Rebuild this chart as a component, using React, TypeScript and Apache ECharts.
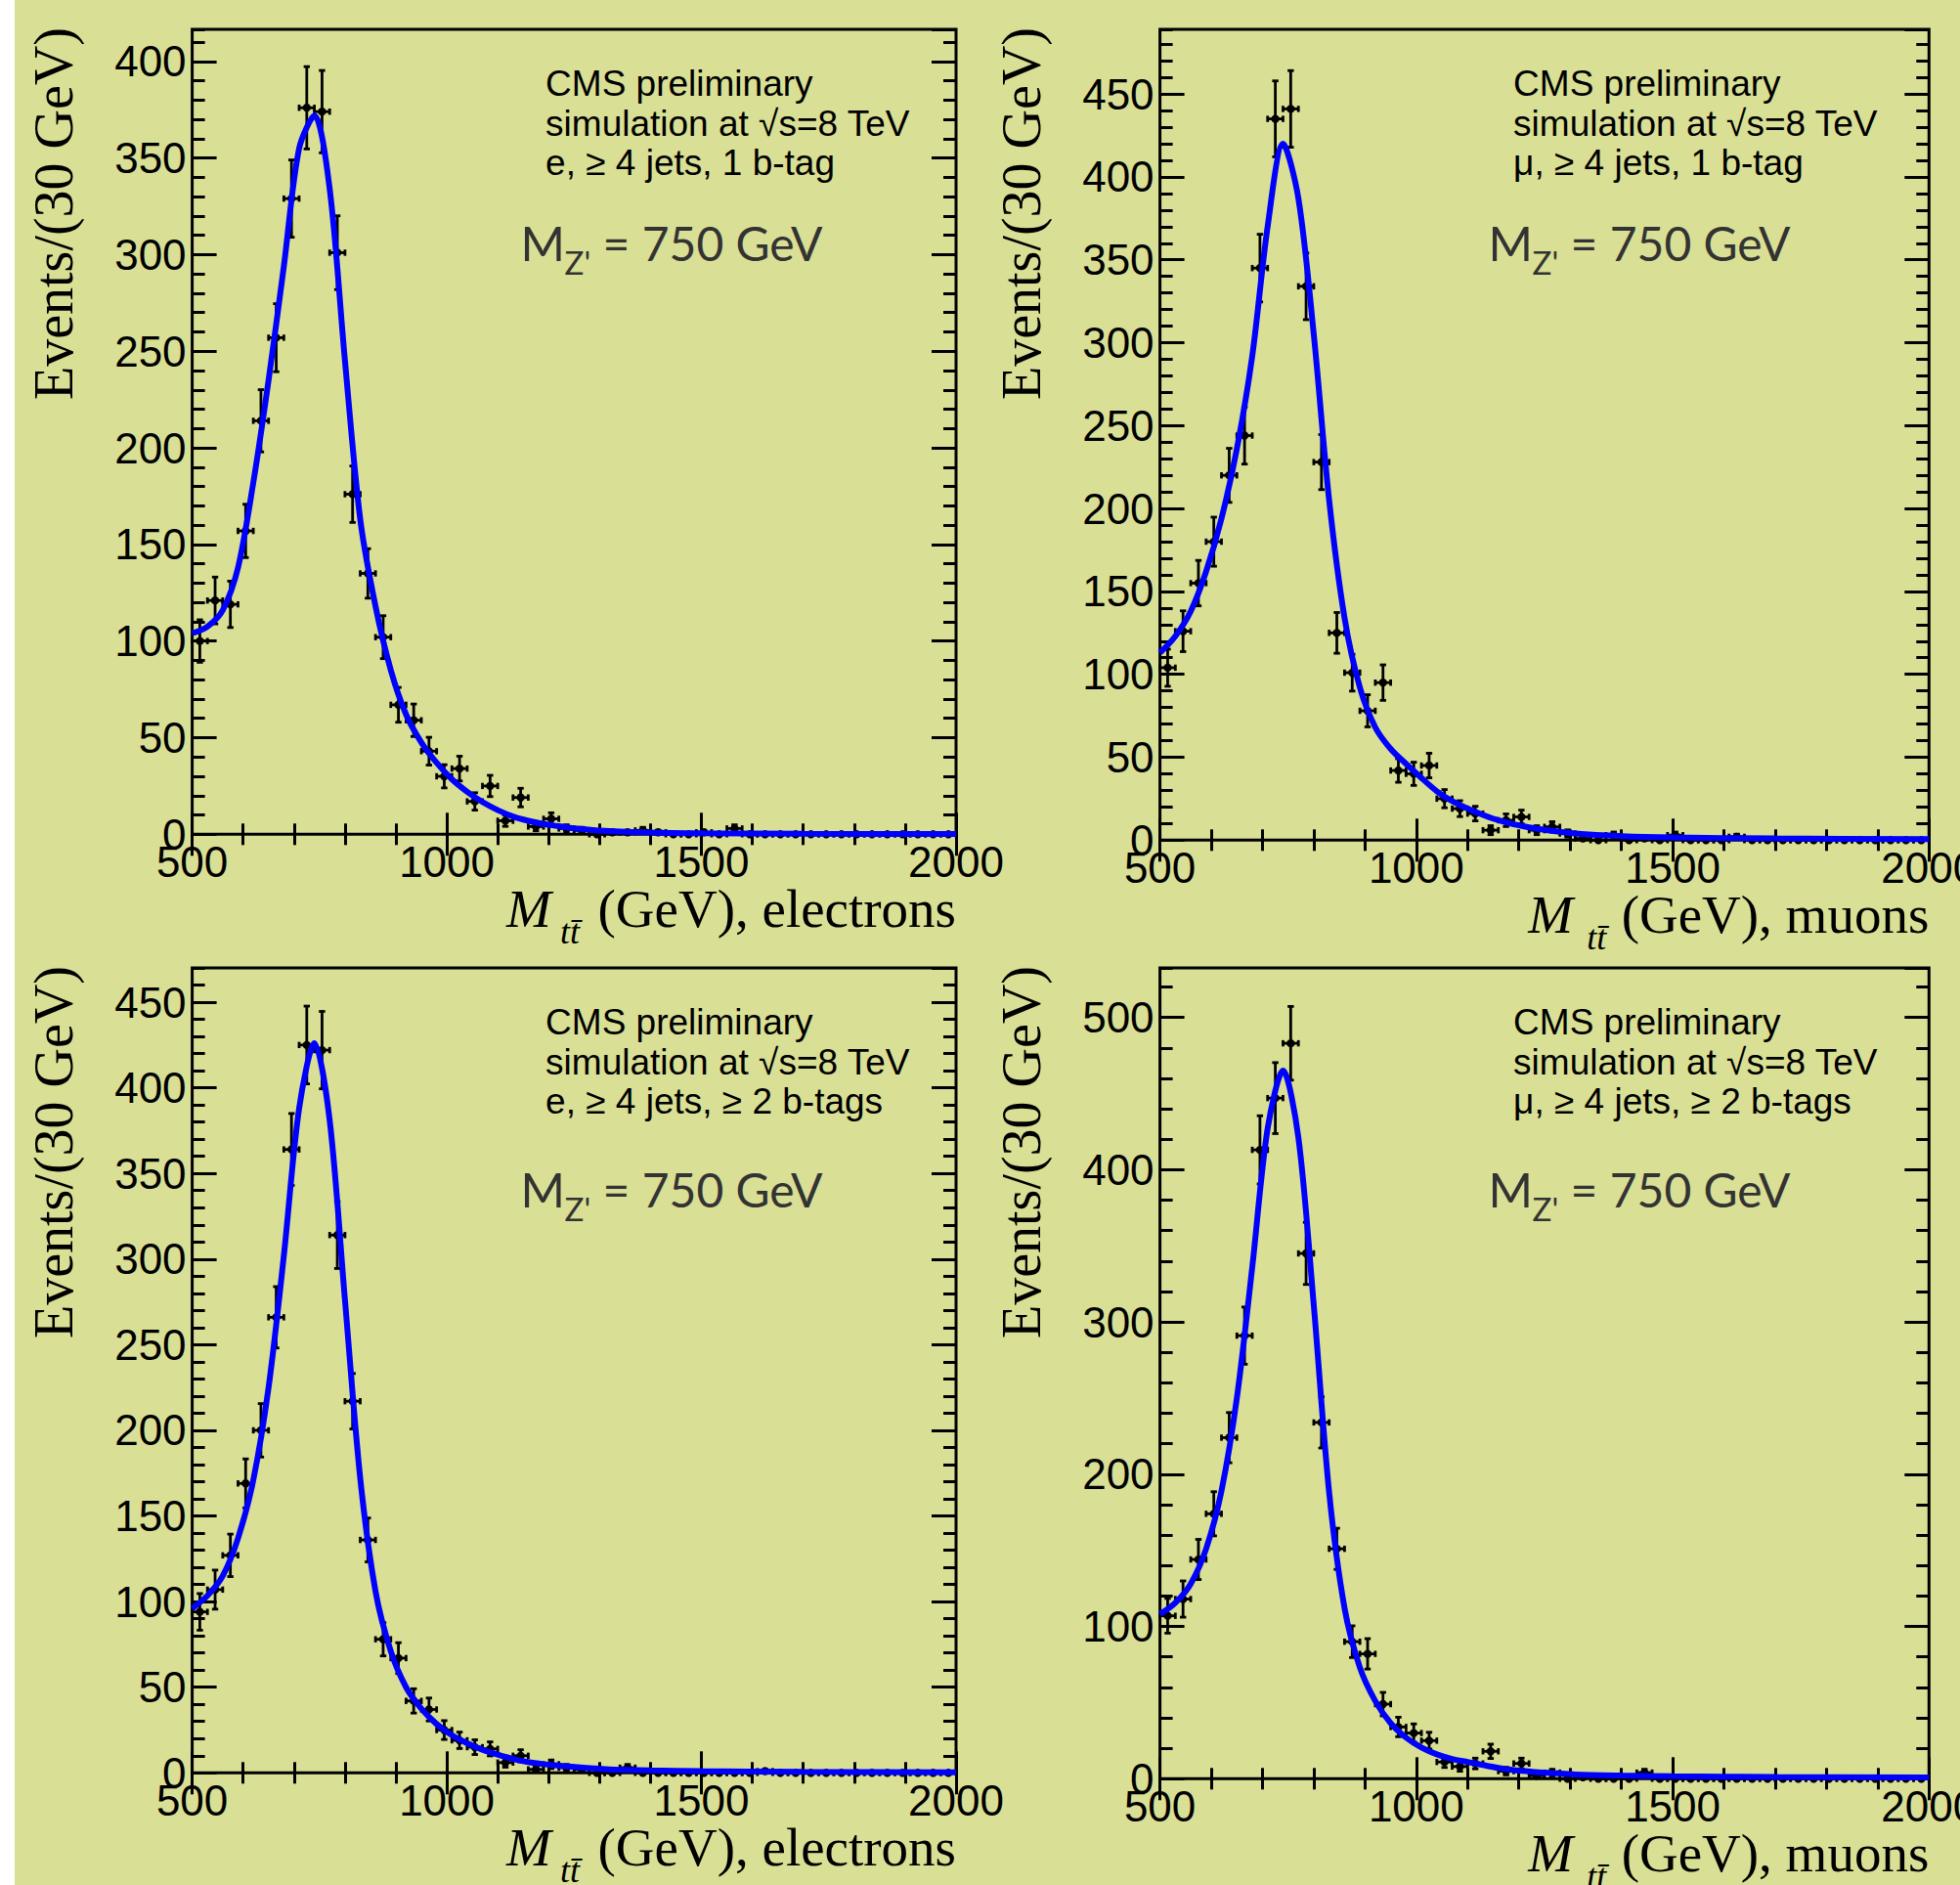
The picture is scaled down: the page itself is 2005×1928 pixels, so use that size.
import React, { useEffect, useRef } from "react";
import * as echarts from "echarts";

// ---------------- data ----------------
const BIN_CENTERS = [
  515, 545, 575, 605, 635, 665, 695, 725, 755, 785, 815, 845, 875, 905, 935, 965, 995, 1025, 1055, 1085,
  1115, 1145, 1175, 1205, 1235, 1265, 1295, 1325, 1355, 1385, 1415, 1445, 1475, 1505, 1535, 1565, 1595,
  1625, 1655, 1685, 1715, 1745, 1775, 1805, 1835, 1865, 1895, 1925, 1955, 1985,
];
const BIN_HALF_WIDTH = 15;

// electrons, 1 b-tag
const E1B_COUNTS = [
  100, 121, 119, 157, 214, 257, 329, 376, 374, 301, 176, 135, 102, 67, 59, 43, 30, 34, 17, 25,
  7, 19, 4, 8, 3, 2, 0, 1, 1, 2, 1, 0, 0, 1, 0, 3, 0, 0, 0, 0, 0, 0, 0, 0, 0, 0, 0, 0, 0, 0,
];
const E1B_ERRORS = [
  11.0, 12.1, 12.0, 13.8, 16.1, 17.6, 20.0, 21.3, 21.3, 19.1, 14.6, 12.8, 11.1, 9.0, 8.4, 7.2, 6.0, 6.4, 4.5, 5.5,
  2.9, 4.8, 2.2, 3.1, 1.9, 1.6, 0, 1.1, 1.1, 1.6, 1.1, 0, 0, 1.1, 0, 1.9, 0, 0, 0, 0, 0, 0, 0, 0, 0, 0, 0, 0, 0, 0,
];
// muons, 1 b-tag
const M1B_COUNTS = [
  104, 126, 155, 180, 220, 244, 345, 435, 441, 334, 228, 125, 101, 78, 95, 42, 40, 45, 25, 19,
  16, 6, 12, 14, 6, 8, 4, 1, 0, 3, 0, 1, 0, 3, 0, 0, 0, 2, 0, 0, 0, 0, 0, 0, 0, 0, 0, 0, 0, 0,
];
const M1B_ERRORS = [
  11.2, 12.3, 13.7, 14.8, 16.3, 17.2, 20.4, 22.9, 23.1, 20.1, 16.6, 12.3, 11.1, 9.7, 10.7, 7.1, 7.0, 7.4, 5.5, 4.8,
  4.4, 2.7, 3.8, 4.1, 2.7, 3.1, 2.2, 1.1, 0, 1.9, 0, 1.1, 0, 1.9, 0, 0, 0, 1.6, 0, 0, 0, 0, 0, 0, 0, 0, 0, 0, 0, 0,
];
// electrons, >= 2 b-tags
const E2B_COUNTS = [
  94, 107, 127, 169, 200, 266, 364, 425, 422, 314, 217, 136, 78, 67, 42, 37, 25, 19, 15, 14,
  6, 10, 2, 5, 3, 2, 0, 0, 3, 0, 0, 0, 0, 0, 0, 0, 0, 1, 0, 0, 0, 0, 0, 0, 0, 0, 0, 0, 0, 0,
];
const E2B_ERRORS = [
  10.7, 11.4, 12.4, 14.3, 15.6, 17.9, 21.0, 22.7, 22.6, 19.5, 16.2, 12.8, 9.7, 9.0, 7.1, 6.7, 5.5, 4.8, 4.3, 4.1,
  2.7, 3.5, 1.6, 2.5, 1.9, 1.6, 0, 0, 1.9, 0, 0, 0, 0, 0, 0, 0, 0, 1.1, 0, 0, 0, 0, 0, 0, 0, 0, 0, 0, 0, 0,
];
// muons, >= 2 b-tags
const M2B_COUNTS = [
  107, 118, 144, 174, 224, 291, 413, 447, 483, 345, 234, 151, 90, 82, 49, 34, 30, 25, 11, 8,
  10, 18, 5, 10, 2, 4, 0, 1, 0, 0, 0, 4, 0, 0, 0, 0, 0, 0, 0, 0, 0, 0, 0, 0, 0, 0, 0, 0, 0, 0,
];
const M2B_ERRORS = [
  11.4, 11.9, 13.2, 14.5, 16.5, 18.8, 22.4, 23.3, 24.2, 20.4, 16.8, 13.5, 10.4, 10.0, 7.7, 6.4, 6.0, 5.5, 3.6, 3.1,
  3.5, 4.7, 2.5, 3.5, 1.6, 2.2, 0, 1.1, 0, 0, 0, 2.2, 0, 0, 0, 0, 0, 0, 0, 0, 0, 0, 0, 0, 0, 0, 0, 0, 0, 0,
];

// fitted curves
const FIT_X = [
  500, 530, 560, 590, 620, 650, 680, 710, 740, 770, 800, 830, 860, 890, 920, 950, 980, 1010, 1040, 1070,
  1100, 1130, 1160, 1190, 1220, 1250, 1310, 1400, 1500, 1700, 2000,
];
const E1B_FIT = [
  104, 107.5, 116, 138, 182, 235, 294, 355, 372, 334, 245, 163, 118, 85, 62, 47.5, 37, 28.5, 22, 16.7,
  12.5, 9.2, 7, 5.3, 4.2, 3.1, 1.8, 0.9, 0.5, 0.25, 0.1,
];
const M1B_FIT = [
  113, 123, 138, 162, 194, 236, 292, 370, 420, 387, 305, 205, 134, 92, 68, 55, 46, 37.5, 29.5, 23.5,
  19, 15.2, 12, 9.5, 7.7, 6.2, 4, 2.4, 1.6, 1.0, 0.6,
];
const E2B_FIT = [
  96, 103.5, 115, 137, 171, 225, 302, 388, 426, 381, 276, 172, 106, 71, 50, 37.5, 28.5, 22, 17.3, 13.5,
  10.6, 8.1, 6.3, 5.1, 4.2, 3.4, 2.2, 1.4, 1.0, 0.6, 0.3,
];
const M2B_FIT = [
  108, 115.5, 128, 151, 189, 250, 336, 427, 465, 421, 311, 188, 112, 73, 51, 36.5, 27, 20.5, 16, 13,
  11, 9, 7.1, 5.7, 4.8, 4, 2.8, 2.1, 1.6, 1.1, 0.8,
];

const X_TICK_LABELS = [500, 1000, 1500, 2000];
const E1B_Y_TICKS = [0, 50, 100, 150, 200, 250, 300, 350, 400];
const M1B_Y_TICKS = [0, 50, 100, 150, 200, 250, 300, 350, 400, 450];
const E2B_Y_TICKS = [0, 50, 100, 150, 200, 250, 300, 350, 400, 450];
const M2B_Y_TICKS = [0, 100, 200, 300, 400, 500];

const SELECTIONS = ["e, ≥ 4 jets, 1 b-tag", "μ, ≥ 4 jets, 1 b-tag", "e, ≥ 4 jets, ≥ 2 b-tags", "μ, ≥ 4 jets, ≥ 2 b-tags"];
const LEPTONS = ["electrons", "muons", "electrons", "muons"];

// ---------------- layout / style ----------------
const W = 2005;
const H = 1928;
const BG = "#D9DF94";
const FONT_SANS = "'Liberation Sans', Arial, Helvetica, sans-serif";
const FONT_SERIF = "'Liberation Serif', 'Times New Roman', serif";
const FONT_OPT = "Lato, 'Open Sans', sans-serif";

const LAYOUTS = [
  { left: 196.6, top: 30, width: 781.4, height: 823.3, yMax: 416.6, minor: 10, mzDy: 0 },
  { left: 1186.6, top: 30, width: 786.7, height: 829.3, yMax: 489, minor: 10, mzDy: 0 },
  { left: 196.6, top: 990, width: 781.4, height: 823.3, yMax: 470, minor: 10, mzDy: 8 },
  { left: 1186.6, top: 990, width: 786.7, height: 829.3, yMax: 532.5, minor: 20, mzDy: 8 },
];

const PANEL_DATA = [
  { counts: E1B_COUNTS, errors: E1B_ERRORS, fit: E1B_FIT, yTicks: E1B_Y_TICKS },
  { counts: M1B_COUNTS, errors: M1B_ERRORS, fit: M1B_FIT, yTicks: M1B_Y_TICKS },
  { counts: E2B_COUNTS, errors: E2B_ERRORS, fit: E2B_FIT, yTicks: E2B_Y_TICKS },
  { counts: M2B_COUNTS, errors: M2B_ERRORS, fit: M2B_FIT, yTicks: M2B_Y_TICKS },
];

function tickAxis(kind: "x" | "y", gridIndex: number, position: string, min: number, max: number, interval: number, length: number, labels: boolean) {
  const base: any = {
    type: "value",
    gridIndex,
    position,
    min,
    max,
    interval,
    axisLine: { show: false },
    splitLine: { show: false },
    axisTick: { show: true, inside: true, length, lineStyle: { color: "#000", width: 3 } },
    axisLabel: labels
      ? {
          show: true,
          margin: 6,
          fontSize: 44,
          fontFamily: FONT_SANS,
          color: "#000",
          formatter: (v: number) => String(v),
          showMaxLabel: kind === "x" ? true : false,
          showMinLabel: true,
        }
      : { show: false },
  };
  return base;
}

function buildOption() {
  const grid: any[] = [];
  const xAxis: any[] = [];
  const yAxis: any[] = [];
  const series: any[] = [];
  const graphic: any[] = [];

  graphic.push({ type: "rect", x: 0, y: 0, z: -10, shape: { x: 0, y: 0, width: 15, height: H }, style: { fill: "#ffffff" } });

  LAYOUTS.forEach((L, i) => {
    const P = PANEL_DATA[i];
    const majorStep = P.yTicks[1] - P.yTicks[0];
    grid.push({
      left: L.left,
      top: L.top,
      width: L.width,
      height: L.height,
      show: true,
      borderColor: "#000",
      borderWidth: 3,
      backgroundColor: "transparent",
      containLabel: false,
      outerBoundsMode: "none",
    });
    const xi = xAxis.length;
    xAxis.push(tickAxis("x", i, "bottom", X_TICK_LABELS[0], X_TICK_LABELS[X_TICK_LABELS.length - 1], X_TICK_LABELS[1] - X_TICK_LABELS[0], 22, true));
    xAxis.push(tickAxis("x", i, "bottom", 500, 2000, 100, 11, false));
    xAxis.push(tickAxis("x", i, "top", 500, 2000, 500, 22, false));
    xAxis.push(tickAxis("x", i, "top", 500, 2000, 100, 11, false));
    const yi = yAxis.length;
    yAxis.push(tickAxis("y", i, "left", 0, L.yMax, majorStep, 25, true));
    yAxis.push(tickAxis("y", i, "left", 0, L.yMax, L.minor, 13, false));
    yAxis.push(tickAxis("y", i, "right", 0, L.yMax, majorStep, 25, false));
    yAxis.push(tickAxis("y", i, "right", 0, L.yMax, L.minor, 13, false));

    series.push({
      type: "custom",
      xAxisIndex: xi,
      yAxisIndex: yi,
      z: 2,
      encode: { x: 0, y: 1 },
      data: BIN_CENTERS.map((x, k) => [x, P.counts[k], P.errors[k]]),
      renderItem: (params: any, api: any) => {
        const x = api.value(0);
        const y = api.value(1);
        const e = api.value(2);
        const c = api.coord([x, y]);
        const l = api.coord([x - BIN_HALF_WIDTH, y]);
        const r = api.coord([x + BIN_HALF_WIDTH, y]);
        const st = { stroke: "#000", lineWidth: 2.8 };
        const cap = 3.2;
        const children: any[] = [
          { type: "line", shape: { x1: l[0], y1: l[1], x2: r[0], y2: r[1] }, style: st },
          { type: "line", shape: { x1: l[0], y1: l[1] - cap, x2: l[0], y2: l[1] + cap }, style: st },
          { type: "line", shape: { x1: r[0], y1: r[1] - cap, x2: r[0], y2: r[1] + cap }, style: st },
        ];
        if (e > 0) {
          const t = api.coord([x, y + e]);
          const b = api.coord([x, y - e]);
          children.push({ type: "line", shape: { x1: t[0], y1: t[1], x2: b[0], y2: b[1] }, style: st });
          children.push({ type: "line", shape: { x1: t[0] - cap, y1: t[1], x2: t[0] + cap, y2: t[1] }, style: st });
          children.push({ type: "line", shape: { x1: b[0] - cap, y1: b[1], x2: b[0] + cap, y2: b[1] }, style: st });
        }
        children.push({ type: "circle", shape: { cx: c[0], cy: c[1], r: 4.2 }, style: { fill: "#000" } });
        return { type: "group", children };
      },
    });
    series.push({
      type: "line",
      xAxisIndex: xi,
      yAxisIndex: yi,
      z: 3,
      data: FIT_X.map((x, k) => [x, P.fit[k]]),
      showSymbol: false,
      symbol: "none",
      smooth: 0.3,
      lineStyle: { color: "#0000FF", width: 6 },
    });

    const right = L.left + L.width;
    const bottom = L.top + L.height;

    // y title
    graphic.push({
      type: "text",
      x: L.left - 141.5,
      y: L.top - 2,
      rotation: Math.PI / 2,
      style: {
        text: "Events/(30 GeV)",
        fontFamily: FONT_SERIF,
        fontSize: 56,
        fill: "#000",
        align: "right",
        verticalAlign: "middle",
        textAlign: "right",
        textVerticalAlign: "middle",
      },
    });
    // x title
    const xb = bottom + 94.5;
    const isMu = LEPTONS[i] === "muons";
    graphic.push({
      type: "text",
      x: right,
      y: xb - 18.6,
      style: {
        text: "(GeV), " + LEPTONS[i],
        fontFamily: FONT_SERIF,
        fontSize: 55,
        fill: "#000",
        align: "right",
        verticalAlign: "middle",
        textAlign: "right",
        textVerticalAlign: "middle",
      },
    });
    graphic.push({
      type: "text",
      x: right - (isMu ? 410 : 460),
      y: xb - 18.6,
      style: {
        text: "M",
        fontFamily: FONT_SERIF,
        fontStyle: "italic",
        fontSize: 55,
        fill: "#000",
        align: "left",
        verticalAlign: "middle",
        textAlign: "left",
        textVerticalAlign: "middle",
      },
    });
    graphic.push({
      type: "text",
      x: right - (isMu ? 350 : 405),
      y: xb + 17 - 12.2,
      style: {
        text: "tt\u0304",
        fontFamily: FONT_SERIF,
        fontStyle: "italic",
        fontSize: 36,
        fill: "#000",
        align: "left",
        verticalAlign: "middle",
        textAlign: "left",
        textVerticalAlign: "middle",
      },
    });

    // CMS block
    const lines = ["CMS preliminary", "simulation at √s=8 TeV", SELECTIONS[i]];
    const baselines = [67.8, 109.3, 149.3];
    lines.forEach((t, k) => {
      graphic.push({
        type: "text",
        x: L.left + 361.5,
        y: L.top + baselines[k] - 12.8,
        style: {
          text: t,
          fontFamily: FONT_SANS,
          fontSize: 37,
          fill: "#000",
          align: "left",
          verticalAlign: "middle",
          textAlign: "left",
          textVerticalAlign: "middle",
        },
      });
    });

    // M_Z' = 750 GeV
    const mb = L.top + 236.7 + L.mzDy;
    const optStyle = (text: string, size: number) => ({
      text,
      fontFamily: FONT_OPT,
      fontSize: size,
      fill: "#333333",
      align: "left",
      verticalAlign: "middle",
      textAlign: "left",
      textVerticalAlign: "middle",
    });
    graphic.push({ type: "text", x: L.left + 336, y: mb - 19, style: optStyle("M", 49) });
    graphic.push({ type: "text", x: L.left + 381, y: mb + 14 - 12.8, style: optStyle("Z'", 33) });
    graphic.push({ type: "text", x: L.left + 420, y: mb - 18.6, style: optStyle("= 750 GeV", 48) });
  });

  return {
    animation: false,
    backgroundColor: BG,
    grid,
    xAxis,
    yAxis,
    series,
    graphic,
  };
}

export default function App() {
  const ref = useRef<HTMLDivElement>(null);
  useEffect(() => {
    if (!ref.current) return;
    const chart = echarts.init(ref.current, undefined, { renderer: "svg", width: W, height: H });
    chart.setOption(buildOption() as any);
    return () => {
      chart.dispose();
    };
  }, []);
  return <div ref={ref} style={{ position: "absolute", left: 0, top: 0, width: W, height: H }} />;
}
